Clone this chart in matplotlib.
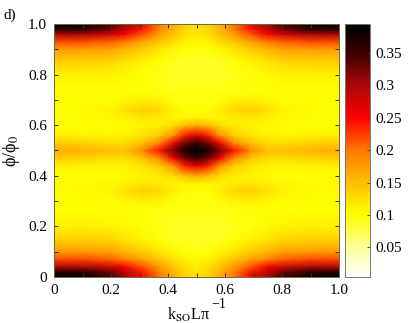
import matplotlib
matplotlib.use("Agg")
import matplotlib.pyplot as plt
from matplotlib.colors import LinearSegmentedColormap, Normalize
from matplotlib.ticker import MultipleLocator

plt.rcParams['font.family'] = ['Liberation Serif', 'DejaVu Serif']
plt.rcParams['mathtext.fontset'] = 'stix'

# Data
kso = [0, 0.1, 0.2, 0.25, 0.31, 0.37, 0.42, 0.46, 0.5, 0.54, 0.58, 0.63, 0.69, 0.75, 0.8, 0.9, 1.0]
phi = [0, 0.02, 0.04, 0.07, 0.10, 0.15, 0.20, 0.27, 0.31, 0.34, 0.37, 0.40, 0.44, 0.47, 0.50,
       0.53, 0.56, 0.60, 0.63, 0.66, 0.69, 0.73, 0.80, 0.85, 0.90, 0.93, 0.96, 0.98, 1.0]
signal = [
    [.390, .385, .345, .305, .250, .195, .160, .135, .125, .135, .160, .195, .250, .305, .345, .385, .390],
    [.365, .365, .325, .290, .240, .190, .155, .130, .120, .130, .155, .190, .240, .290, .325, .365, .365],
    [.300, .300, .280, .255, .215, .175, .145, .125, .115, .125, .145, .175, .215, .255, .280, .300, .300],
    [.220, .220, .210, .195, .170, .145, .125, .110, .105, .110, .125, .145, .170, .195, .210, .220, .220],
    [.175, .175, .170, .155, .140, .120, .105, .098, .095, .098, .105, .120, .140, .155, .170, .175, .175],
    [.135, .135, .130, .120, .108, .098, .090, .088, .088, .088, .090, .098, .108, .120, .130, .135, .135],
    [.112, .112, .110, .105, .098, .092, .088, .087, .088, .087, .088, .092, .098, .105, .110, .112, .112],
    [.100, .100, .100, .100, .098, .096, .094, .094, .094, .094, .094, .096, .098, .100, .100, .100, .100],
    [.102, .102, .104, .110, .118, .114, .102, .097, .096, .097, .102, .114, .118, .110, .104, .102, .102],
    [.104, .104, .110, .124, .137, .130, .112, .100, .098, .100, .112, .130, .137, .124, .110, .104, .104],
    [.103, .103, .105, .111, .118, .115, .108, .108, .112, .108, .108, .115, .118, .111, .105, .103, .103],
    [.100, .100, .101, .104, .110, .114, .128, .150, .165, .150, .128, .114, .110, .104, .101, .100, .100],
    [.112, .110, .108, .110, .120, .140, .185, .240, .270, .240, .185, .140, .120, .110, .108, .110, .112],
    [.140, .135, .126, .128, .148, .190, .260, .325, .350, .325, .260, .190, .148, .128, .126, .135, .140],
    [.162, .158, .148, .150, .185, .245, .325, .380, .395, .380, .325, .245, .185, .150, .148, .158, .162],
    [.140, .135, .126, .128, .148, .190, .260, .325, .350, .325, .260, .190, .148, .128, .126, .135, .140],
    [.112, .110, .108, .110, .120, .140, .185, .240, .270, .240, .185, .140, .120, .110, .108, .110, .112],
    [.100, .100, .101, .104, .110, .114, .128, .150, .165, .150, .128, .114, .110, .104, .101, .100, .100],
    [.103, .103, .105, .111, .118, .115, .108, .108, .112, .108, .108, .115, .118, .111, .105, .103, .103],
    [.104, .104, .110, .124, .137, .130, .112, .100, .098, .100, .112, .130, .137, .124, .110, .104, .104],
    [.102, .102, .104, .110, .118, .114, .102, .097, .096, .097, .102, .114, .118, .110, .104, .102, .102],
    [.100, .100, .100, .100, .098, .096, .094, .094, .094, .094, .094, .096, .098, .100, .100, .100, .100],
    [.112, .112, .110, .105, .098, .092, .088, .087, .088, .087, .088, .092, .098, .105, .110, .112, .112],
    [.135, .135, .130, .120, .108, .098, .090, .088, .088, .088, .090, .098, .108, .120, .130, .135, .135],
    [.175, .175, .170, .155, .140, .120, .105, .098, .095, .098, .105, .120, .140, .155, .170, .175, .175],
    [.220, .220, .210, .195, .170, .145, .125, .110, .105, .110, .125, .145, .170, .195, .210, .220, .220],
    [.300, .300, .280, .255, .215, .175, .145, .125, .115, .125, .145, .175, .215, .255, .280, .300, .300],
    [.365, .365, .325, .290, .240, .190, .155, .130, .120, .130, .155, .190, .240, .290, .325, .365, .365],
    [.390, .385, .345, .305, .250, .195, .160, .135, .125, .135, .160, .195, .250, .305, .345, .385, .390],
]
tick_vals = [0, 0.2, 0.4, 0.6, 0.8, 1.0]
tick_labels = ['0', '0.2', '0.4', '0.6', '0.8', '1.0']
cbar_ticks = [0.05, 0.1, 0.15, 0.2, 0.25, 0.3, 0.35]
cbar_labels = ['0.05', '0.1', '0.15', '0.2', '0.25', '0.3', '0.35']

vmin, vmax = 0.004, 0.395
stops = [(0.004, '#ffffff'), (0.05, '#ffff99'), (0.10, '#ffff00'), (0.15, '#ffbe00'),
         (0.20, '#ff7800'), (0.25, '#ff0000'), (0.30, '#aa0808'), (0.35, '#3c0000'),
         (0.395, '#000000')]
cmap = LinearSegmentedColormap.from_list(
    'wyrk', [((v - vmin) / (vmax - vmin), c) for v, c in stops], N=512)

W, H = 415, 323
fig = plt.figure(figsize=(W / 100, H / 100), dpi=100)
ax = fig.add_axes([54 / W, 1 - 277 / H, 285 / W, 253 / H])
cax = fig.add_axes([344.5 / W, 1 - 277 / H, 25 / W, 253 / H])

mesh = ax.pcolormesh(kso, phi, signal, shading='gouraud', cmap=cmap,
                     norm=Normalize(vmin, vmax), rasterized=True)
ax.set_xlim(0, 1)
ax.set_ylim(0, 1)
ax.set_xticks(tick_vals, tick_labels)
ax.set_yticks(tick_vals, tick_labels)
ax.yaxis.set_minor_locator(MultipleLocator(0.1))
ax.xaxis.set_minor_locator(MultipleLocator(0.1))
ax.tick_params(which='both', direction='in', top=True, right=True, length=3, width=0.7,
               labelsize=11, color='#333333', pad=5)
for s in ax.spines.values():
    s.set_linewidth(0.7)
    s.set_color('#6b6b3a')

# labels placed by hand, the exponent sits higher than mathtext would put it
fig.text(167 / W, 1 - 320 / H, r'k$_{\mathrm{SO}}$Lπ', fontsize=11.5, va='baseline')
fig.text(211 / W, 1 - 308 / H, '−1', fontsize=10, va='baseline')
fig.text(12 / W, 1 - 151 / H, 'ϕ/ϕ$_0$', fontsize=13, rotation=90, ha='center', va='center')
fig.text(3 / W, 1 - 19 / H, 'd)', fontsize=11)

cb = fig.colorbar(mesh, cax=cax)
cb.set_ticks(cbar_ticks, labels=cbar_labels)
cb.ax.tick_params(direction='in', length=2.5, width=0.6, labelsize=11, pad=4, color='#333333')
cb.ax.minorticks_off()
cb.outline.set_linewidth(0.7)
cb.outline.set_edgecolor('#777777')

fig.savefig('out.png', dpi=100)
